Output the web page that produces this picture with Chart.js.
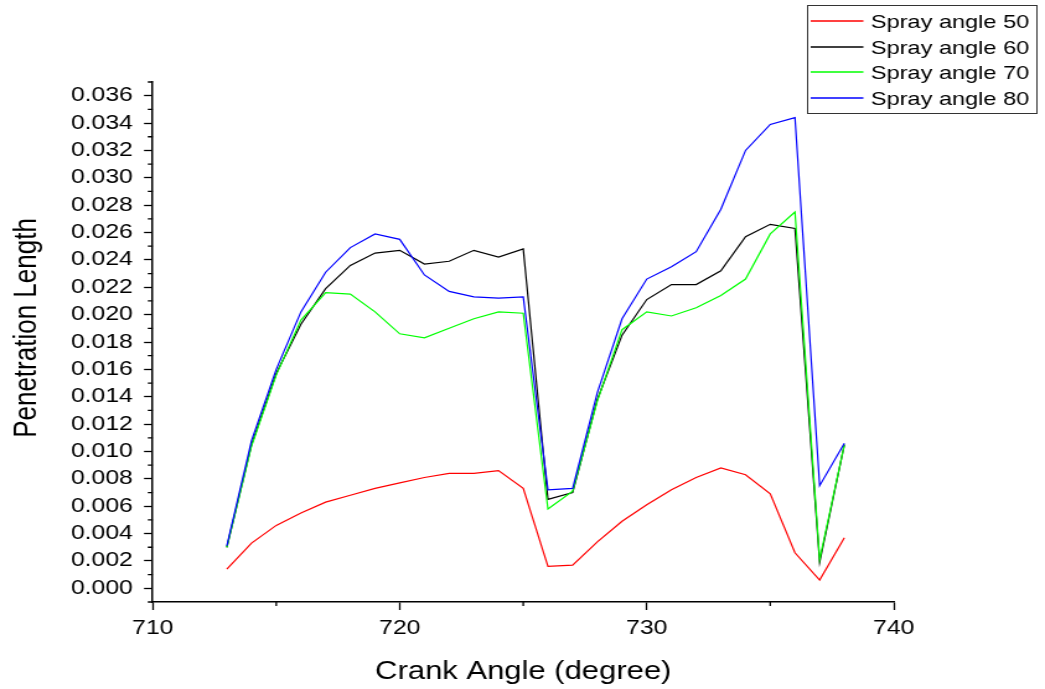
<!DOCTYPE html>
<html>
<head>
<meta charset="utf-8">
<title>Penetration Length vs Crank Angle</title>
<script src="https://cdn.jsdelivr.net/npm/chart.js@4/dist/chart.umd.min.js"></script>
<style>
  html, body { margin: 0; padding: 0; background: #fff; overflow: hidden; }
  /* the plot is laid out at 843px and widened to fill the 1045px window */
  #wrap { width: 843px; height: 689px; transform: scaleX(1.2396); transform-origin: 0 0; }
</style>
</head>
<body>
<div id="wrap"><canvas id="penChart" width="843" height="689"></canvas></div>
<script>
const crankAngle = [713, 714, 715, 716, 717, 718, 719, 720, 721, 722, 723, 724, 725,
                    726, 727, 728, 729, 730, 731, 732, 733, 734, 735, 736, 737, 738];

const spray50 = [0.0014, 0.0033, 0.0046, 0.0055, 0.0063, 0.0068, 0.0073, 0.0077, 0.0081, 0.0084, 0.0084, 0.0086, 0.0073,
                 0.0016, 0.0017, 0.0034, 0.0049, 0.0061, 0.0072, 0.0081, 0.0088, 0.0083, 0.0069, 0.0026, 0.0006, 0.0037];
const spray60 = [0.0030, 0.0105, 0.0157, 0.0193, 0.0219, 0.0236, 0.0245, 0.0247, 0.0237, 0.0239, 0.0247, 0.0242, 0.0248,
                 0.0065, 0.0070, 0.0138, 0.0185, 0.0211, 0.0222, 0.0222, 0.0232, 0.0257, 0.0266, 0.0263, 0.0019, 0.0105];
const spray70 = [0.0030, 0.0104, 0.0156, 0.0196, 0.0216, 0.0215, 0.0202, 0.0186, 0.0183, 0.0190, 0.0197, 0.0202, 0.0201,
                 0.0058, 0.0071, 0.0137, 0.0189, 0.0202, 0.0199, 0.0205, 0.0214, 0.0226, 0.0259, 0.0275, 0.0021, 0.0105];
const spray80 = [0.0031, 0.0108, 0.0160, 0.0202, 0.0231, 0.0249, 0.0259, 0.0255, 0.0229, 0.0217, 0.0213, 0.0212, 0.0213,
                 0.0072, 0.0073, 0.0143, 0.0197, 0.0226, 0.0235, 0.0246, 0.0277, 0.0320, 0.0339, 0.0344, 0.0075, 0.0106];

const seriesLabels = ['Spray angle 50', 'Spray angle 60', 'Spray angle 70', 'Spray angle 80'];
const seriesColors = ['#ff0000', '#000000', '#00ff00', '#0000ff'];

const xTicks = [710, 720, 730, 740];
const yTicks = [0.000, 0.002, 0.004, 0.006, 0.008, 0.010, 0.012, 0.014, 0.016, 0.018,
                0.020, 0.022, 0.024, 0.026, 0.028, 0.030, 0.032, 0.034, 0.036];

const FONT = '"Liberation Sans", Arial, sans-serif';

const toPoints = vals => vals.map((v, i) => ({ x: crankAngle[i], y: v }));

// minor ticks sit halfway between the labelled ones (plus one past each end on y)
function minorValues(major, extendEnds) {
  const out = [];
  for (let i = 0; i < major.length - 1; i++) out.push((major[i] + major[i + 1]) / 2);
  if (extendEnds) {
    const half = (major[1] - major[0]) / 2;
    out.unshift(major[0] - half);
    out.push(major[major.length - 1] + half);
  }
  return out;
}

const decorPlugin = {
  id: 'decor',
  afterDraw(chart) {
    const ctx = chart.ctx;
    const xs = chart.scales.x, ys = chart.scales.y;
    const area = chart.chartArea;

    ctx.save();
    ctx.strokeStyle = '#000';
    ctx.lineWidth = 1.3;
    ctx.beginPath();
    minorValues(xTicks, false).forEach(v => {
      const px = xs.getPixelForValue(v);
      ctx.moveTo(px, area.bottom);
      ctx.lineTo(px, area.bottom + 4);
    });
    minorValues(yTicks, true).forEach(v => {
      const py = ys.getPixelForValue(v);
      ctx.moveTo(area.left, py);
      ctx.lineTo(area.left - 4, py);
    });
    ctx.stroke();

    // y axis title
    ctx.fillStyle = '#000';
    ctx.font = '26px ' + FONT;
    ctx.textAlign = 'center';
    ctx.textBaseline = 'middle';
    ctx.translate(22, 328);
    ctx.rotate(-Math.PI / 2);
    ctx.fillText('Penetration Length', 0, 0);
    ctx.restore();

    // legend box in the top right corner
    const bx = 651, by = 5, bw = 185, bh = 108;
    ctx.save();
    ctx.fillStyle = '#fff';
    ctx.fillRect(bx, by, bw, bh);
    ctx.strokeStyle = '#333';
    ctx.lineWidth = 1;
    ctx.strokeRect(bx + 0.5, by + 0.5, bw, bh);
    ctx.font = '19px ' + FONT;
    ctx.textAlign = 'left';
    ctx.textBaseline = 'middle';
    chart.data.datasets.forEach((ds, i) => {
      const ly = 21 + Math.round(i * 25.5);
      ctx.beginPath();
      ctx.strokeStyle = seriesColors[i];
      ctx.lineWidth = 1.4;
      ctx.moveTo(654, ly);
      ctx.lineTo(696.5, ly);
      ctx.stroke();
      ctx.fillStyle = '#000';
      ctx.fillText(ds.label, 702.5, ly + 1.5);
    });
    ctx.restore();
  }
};

const datasets = [spray50, spray60, spray70, spray80].map((vals, i) => ({
  label: seriesLabels[i],
  data: toPoints(vals),
  borderColor: seriesColors[i],
  backgroundColor: seriesColors[i],
  borderWidth: 1.2,
  pointRadius: 0,
  tension: 0,
  fill: false,
  order: 4 - i
}));

new Chart(document.getElementById('penChart').getContext('2d'), {
  type: 'line',
  data: { datasets },
  options: {
    responsive: false,
    animation: false,
    devicePixelRatio: 1,
    layout: { padding: { top: 82, right: 122, left: 0, bottom: 0 } },
    plugins: { legend: { display: false }, tooltip: { enabled: false } },
    scales: {
      x: {
        type: 'linear',
        min: 710,
        max: 740,
        afterBuildTicks: s => { s.ticks = xTicks.map(v => ({ value: v })); },
        afterFit: s => { s.height = 87; },
        border: { color: '#000', width: 1.5 },
        grid: { drawOnChartArea: false, tickLength: 8, tickColor: '#000', tickWidth: 1.3 },
        ticks: { color: '#000', font: { family: FONT, size: 20 }, padding: 6, maxRotation: 0, autoSkip: false },
        title: { display: true, text: 'Crank Angle (degree)', color: '#000',
                 font: { family: FONT, size: 25 }, padding: { top: 0, bottom: 2 } }
      },
      y: {
        type: 'linear',
        min: -0.001,
        max: 0.037,
        afterBuildTicks: s => { s.ticks = yTicks.map(v => ({ value: v })); },
        afterFit: s => { s.width = 123.2; },
        border: { color: '#000', width: 1.5 },
        grid: { drawOnChartArea: false, tickLength: 7, tickColor: '#000', tickWidth: 1.3 },
        ticks: { color: '#000', font: { family: FONT, size: 20 }, padding: 9, autoSkip: false,
                 callback: v => v.toFixed(3) }
      }
    }
  },
  plugins: [decorPlugin]
});
</script>
</body>
</html>
